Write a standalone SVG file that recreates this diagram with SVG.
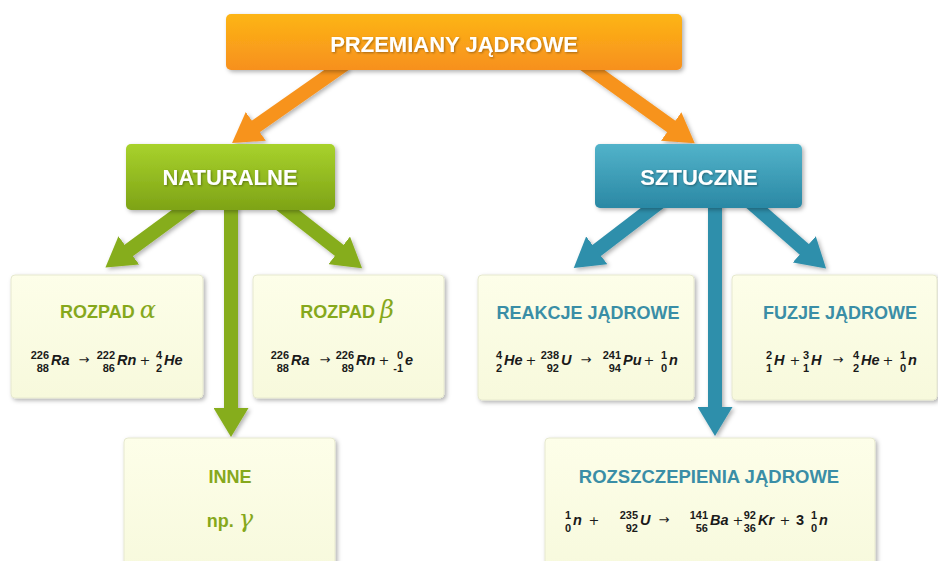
<svg xmlns="http://www.w3.org/2000/svg" width="938" height="561" viewBox="0 0 938 561">
<style>
.hdr{font-family:"Liberation Sans",Arial,sans-serif;font-weight:bold;font-size:22px;fill:#ffffff;text-anchor:middle;filter:url(#ts)}
.ttl{font-family:"Liberation Sans",Arial,sans-serif;font-weight:bold;font-size:18px;text-anchor:middle}
.g{fill:#86a81c}
.b{fill:#3a8ea6}
.greek{font-family:"DejaVu Serif",serif;font-style:italic;font-weight:normal;font-size:24px}
.sym{font-family:"Liberation Sans",Arial,sans-serif;font-weight:bold;font-style:italic;font-size:14.5px;fill:#1a1a1a}
.num{font-family:"Liberation Sans",Arial,sans-serif;font-weight:bold;font-size:11px;fill:#1a1a1a;text-anchor:end}
.op{font-family:"DejaVu Sans",sans-serif;font-size:13px;fill:#1a1a1a;text-anchor:middle}
.box{fill:url(#cream);stroke:#e6e8cf;stroke-width:1;filter:url(#sh)}
.conn line{fill:none;stroke-width:14}
</style>
<defs>
<linearGradient id="cream" x1="0" y1="0" x2="0" y2="1"><stop offset="0" stop-color="#fdfee9"/><stop offset="1" stop-color="#f7f9dc"/></linearGradient>
<linearGradient id="org" x1="0" y1="0" x2="0" y2="1"><stop offset="0" stop-color="#fdb515"/><stop offset="1" stop-color="#f7901e"/></linearGradient>
<linearGradient id="grn" x1="0" y1="0" x2="0" y2="1"><stop offset="0" stop-color="#a8d22c"/><stop offset="1" stop-color="#7ea316"/></linearGradient>
<linearGradient id="blu" x1="0" y1="0" x2="0" y2="1"><stop offset="0" stop-color="#52b3ca"/><stop offset="1" stop-color="#2a88a4"/></linearGradient>
<filter id="sh" x="-10%" y="-10%" width="125%" height="130%"><feDropShadow dx="2" dy="2" stdDeviation="2" flood-color="#000" flood-opacity="0.3"/></filter>
<filter id="ts" x="-5%" y="-20%" width="110%" height="150%"><feDropShadow dx="1" dy="1" stdDeviation="0.8" flood-color="#000" flood-opacity="0.35"/></filter>
<marker id="mo" markerUnits="userSpaceOnUse" viewBox="0 0 29 35" markerWidth="29" markerHeight="35" refX="1" refY="17.5" orient="auto"><path d="M0,0 L29,17.5 L0,35 z" fill="#f7931e"/></marker>
<marker id="mg" markerUnits="userSpaceOnUse" viewBox="0 0 29 35" markerWidth="29" markerHeight="35" refX="1" refY="17.5" orient="auto"><path d="M0,0 L29,17.5 L0,35 z" fill="#86ad1b"/></marker>
<marker id="mb" markerUnits="userSpaceOnUse" viewBox="0 0 29 35" markerWidth="29" markerHeight="35" refX="1" refY="17.5" orient="auto"><path d="M0,0 L29,17.5 L0,35 z" fill="#2f8fab"/></marker>
</defs>
<rect width="938" height="561" fill="#ffffff"/>
<g id="connectors" class="conn" filter="url(#sh)">
<line x1="345" y1="64" x2="255" y2="127" stroke="#f7931e" marker-end="url(#mo)"/>
<line x1="584" y1="64" x2="672" y2="127" stroke="#f7931e" marker-end="url(#mo)"/>
<line x1="192" y1="204" x2="128" y2="251" stroke="#86ad1b" marker-end="url(#mg)"/>
<line x1="280" y1="204" x2="340" y2="251" stroke="#86ad1b" marker-end="url(#mg)"/>
<line x1="231" y1="204" x2="231" y2="409" stroke="#86ad1b" marker-end="url(#mg)"/>
<line x1="660" y1="202" x2="596" y2="251" stroke="#2f8fab" marker-end="url(#mb)"/>
<line x1="749" y1="201" x2="805" y2="250" stroke="#2f8fab" marker-end="url(#mb)"/>
<line x1="715" y1="202" x2="715" y2="408" stroke="#2f8fab" marker-end="url(#mb)"/>
</g>
<g id="przemiany">
<rect x="226" y="14" width="456" height="56" rx="5" fill="url(#org)" filter="url(#sh)"/>
<text class="hdr" x="454" y="52">PRZEMIANY JĄDROWE</text>
</g>
<g id="naturalne">
<rect x="126" y="144" width="209" height="66" rx="5" fill="url(#grn)" filter="url(#sh)"/>
<text class="hdr" x="230" y="185">NATURALNE</text>
</g>
<g id="sztuczne">
<rect x="595" y="144" width="207" height="64" rx="5" fill="url(#blu)" filter="url(#sh)"/>
<text class="hdr" x="699" y="185">SZTUCZNE</text>
</g>
<g id="rozpad-alfa">
<rect class="box" x="11" y="275" width="192" height="123" rx="4"/>
<text class="ttl g" x="108" y="318">ROZPAD <tspan class="greek">α</tspan></text>
<text class="num" x="49" y="359">226</text><text class="num" x="49" y="372">88</text><text class="sym" x="51" y="365">Ra</text>
<text class="op" x="84" y="364">→</text>
<text class="num" x="115" y="359">222</text><text class="num" x="115" y="372">86</text><text class="sym" x="117" y="365">Rn</text>
<text class="op" x="145" y="365">+</text>
<text class="num" x="162" y="359">4</text><text class="num" x="162" y="372">2</text><text class="sym" x="164" y="365">He</text>
</g>
<g id="rozpad-beta">
<rect class="box" x="253" y="275" width="191" height="123" rx="4"/>
<text class="ttl g" x="347" y="318">ROZPAD <tspan class="greek">β</tspan></text>
<text class="num" x="289" y="359">226</text><text class="num" x="289" y="372">88</text><text class="sym" x="291" y="365">Ra</text>
<text class="op" x="325" y="364">→</text>
<text class="num" x="354" y="359">226</text><text class="num" x="354" y="372">89</text><text class="sym" x="356" y="365">Rn</text>
<text class="op" x="384" y="365">+</text>
<text class="num" x="403" y="359">0</text><text class="num" x="403" y="372">-1</text><text class="sym" x="405" y="365">e</text>
</g>
<g id="reakcje">
<rect class="box" x="478" y="275" width="216" height="125" rx="4"/>
<text class="ttl b" x="588" y="319">REAKCJE JĄDROWE</text>
<text class="num" x="502" y="359">4</text><text class="num" x="502" y="372">2</text><text class="sym" x="504" y="365">He</text>
<text class="op" x="531" y="365">+</text>
<text class="num" x="559" y="359">238</text><text class="num" x="559" y="372">92</text><text class="sym" x="561" y="365">U</text>
<text class="op" x="586" y="364">→</text>
<text class="num" x="621" y="359">241</text><text class="num" x="621" y="372">94</text><text class="sym" x="623" y="365">Pu</text>
<text class="op" x="649" y="365">+</text>
<text class="num" x="667" y="359">1</text><text class="num" x="667" y="372">0</text><text class="sym" x="669" y="365">n</text>
</g>
<g id="fuzje">
<rect class="box" x="732" y="275" width="205" height="125" rx="4"/>
<text class="ttl b" x="840" y="319">FUZJE JĄDROWE</text>
<text class="num" x="772" y="359">2</text><text class="num" x="772" y="372">1</text><text class="sym" x="774" y="365">H</text>
<text class="op" x="795" y="365">+</text>
<text class="num" x="809" y="359">3</text><text class="num" x="809" y="372">1</text><text class="sym" x="811" y="365">H</text>
<text class="op" x="838" y="364">→</text>
<text class="num" x="859" y="359">4</text><text class="num" x="859" y="372">2</text><text class="sym" x="861" y="365">He</text>
<text class="op" x="888" y="365">+</text>
<text class="num" x="906" y="359">1</text><text class="num" x="906" y="372">0</text><text class="sym" x="908" y="365">n</text>
</g>
<g id="inne">
<rect class="box" x="124" y="438" width="211" height="140" rx="4"/>
<text class="ttl g" x="230" y="483">INNE</text>
<text class="ttl g" x="230" y="527">np. <tspan class="greek">γ</tspan></text>
</g>
<g id="rozszczepienia">
<rect class="box" x="545" y="438" width="330" height="140" rx="4"/>
<text class="ttl b" x="709" y="483" style="font-size:18.5px">ROZSZCZEPIENIA JĄDROWE</text>
<text class="num" x="571" y="519">1</text><text class="num" x="571" y="532">0</text><text class="sym" x="573" y="525">n</text>
<text class="op" x="594" y="525">+</text>
<text class="num" x="638" y="519">235</text><text class="num" x="638" y="532">92</text><text class="sym" x="640" y="525">U</text>
<text class="op" x="664" y="524">→</text>
<text class="num" x="708" y="519">141</text><text class="num" x="708" y="532">56</text><text class="sym" x="710" y="525">Ba</text>
<text class="op" x="738" y="525">+</text>
<text class="num" x="756" y="519">92</text><text class="num" x="756" y="532">36</text><text class="sym" x="758" y="525">Kr</text>
<text class="op" x="785" y="525">+</text>
<text class="sym" x="796" y="525" style="font-style:normal">3</text>
<text class="num" x="817" y="519">1</text><text class="num" x="817" y="532">0</text><text class="sym" x="819" y="525">n</text>
</g>
</svg>
